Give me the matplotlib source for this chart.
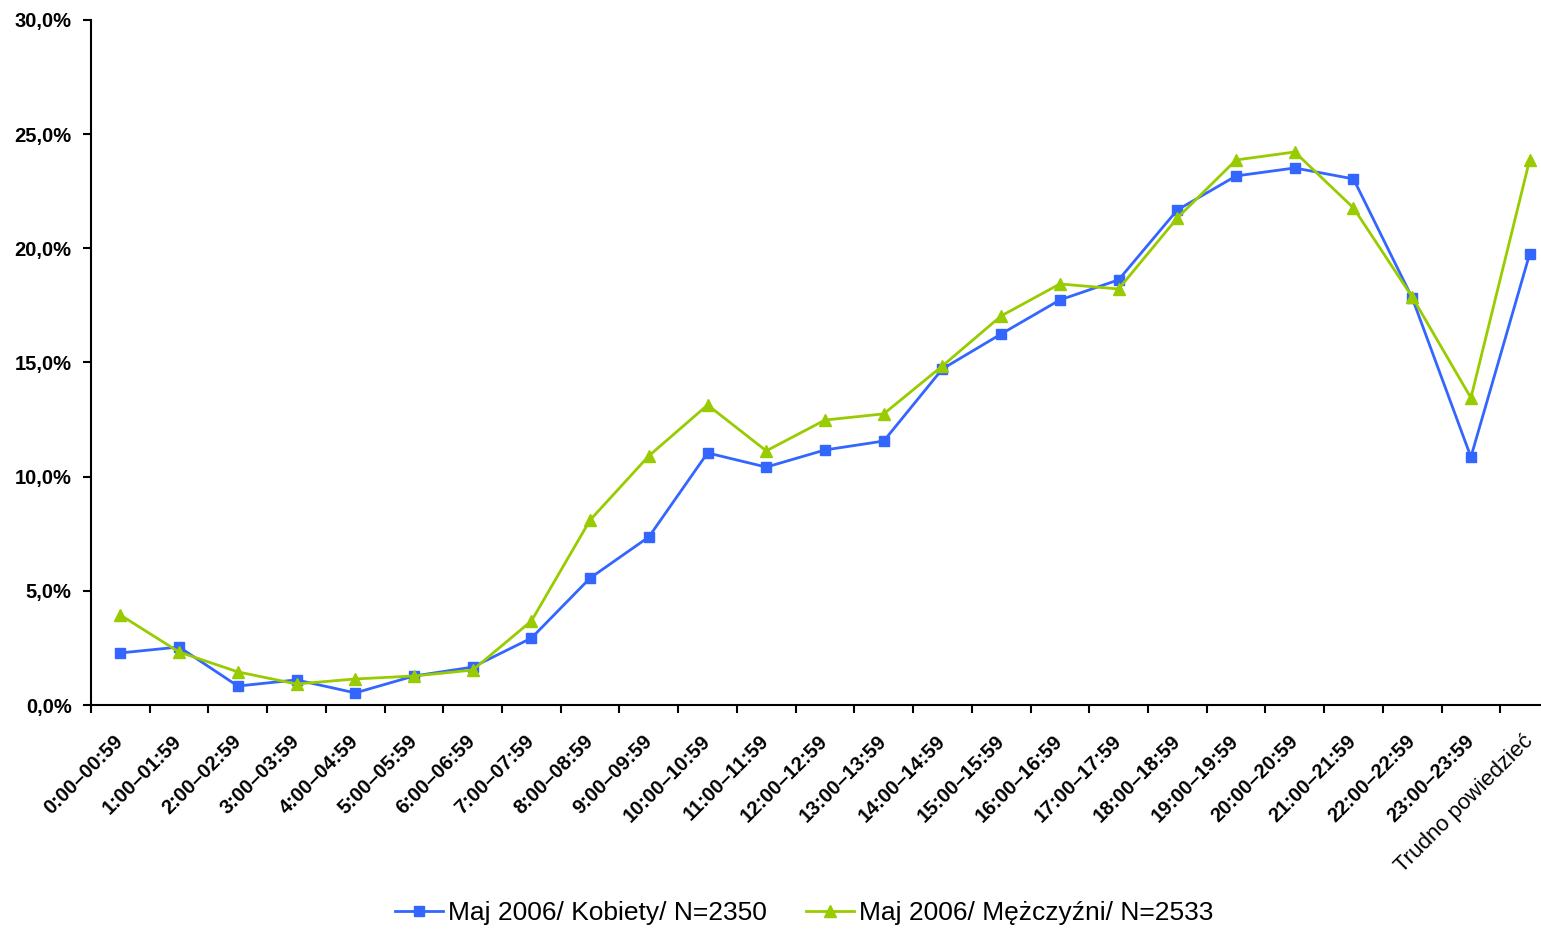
import numpy as np
import matplotlib.pyplot as plt
from matplotlib.ticker import FuncFormatter

plt.rcParams['font.family'] = ['Liberation Sans', 'DejaVu Sans']

kategorie = ["0:00–00:59", "1:00–01:59", "2:00–02:59", "3:00–03:59", "4:00–04:59",
             "5:00–05:59", "6:00–06:59", "7:00–07:59", "8:00–08:59", "9:00–09:59",
             "10:00–10:59", "11:00–11:59", "12:00–12:59", "13:00–13:59", "14:00–14:59",
             "15:00–15:59", "16:00–16:59", "17:00–17:59", "18:00–18:59", "19:00–19:59",
             "20:00–20:59", "21:00–21:59", "22:00–22:59", "23:00–23:59", "Trudno powiedzieć"]

kobiety = [2.28, 2.54, 0.83, 1.10, 0.53, 1.27, 1.66, 2.93, 5.56, 7.36,
           11.04, 10.42, 11.17, 11.56, 14.72, 16.25, 17.74, 18.62, 21.68, 23.17,
           23.52, 23.04, 17.83, 10.86, 19.75]

mezczyzni = [3.94, 2.32, 1.45, 0.92, 1.14, 1.27, 1.53, 3.68, 8.10, 10.91,
             13.14, 11.13, 12.48, 12.75, 14.85, 17.04, 18.44, 18.22, 21.33, 23.87,
             24.22, 21.77, 17.87, 13.45, 23.87]

etykiety = ["Maj 2006/ Kobiety/ N=2350", "Maj 2006/ Mężczyźni/ N=2533"]

fig = plt.figure(figsize=(15.41, 9.30), dpi=100)
ax = fig.add_axes([91 / 1541, 1 - 705 / 930, (1559 - 91) / 1541, (705 - 20) / 930])

x = np.arange(len(kategorie))
ax.plot(x, kobiety, color='#3366FF', marker='s', markersize=7, linewidth=2,
        label=etykiety[0], clip_on=False)
ax.plot(x, mezczyzni, color='#99CC00', marker='^', markersize=8, linewidth=2,
        label=etykiety[1], clip_on=False)

ax.set_xlim(-0.5, len(kategorie) - 0.5)
ax.set_ylim(0, 30)
ax.set_yticks(np.arange(0, 31, 5))
ax.yaxis.set_major_formatter(FuncFormatter(lambda v, p: f"{v:.1f}%".replace('.', ',')))

ax.set_xticks(x)
ax.set_xticklabels(kategorie, rotation=45, ha='right', va='center',
                   rotation_mode='anchor', fontweight='bold', fontsize=14.5)
# ostatnia etykieta nie jest pogrubiona
ostatnia = ax.get_xticklabels()[-1]
ostatnia.set_fontweight('normal')
ostatnia.set_fontsize(16)
ax.set_xticks(np.arange(-0.5, len(kategorie)), minor=True)
ax.tick_params(axis='x', which='major', length=0, pad=24)
ax.tick_params(axis='x', which='minor', length=6, width=1.5, direction='out')
ax.tick_params(axis='y', length=6, width=1.5, labelsize=14.5, pad=8)
for t in ax.get_yticklabels():
    t.set_fontweight('bold')

for s in ['top', 'right']:
    ax.spines[s].set_visible(False)
for s in ['left', 'bottom']:
    ax.spines[s].set_linewidth(1.5)

fig.legend(loc='center', bbox_to_anchor=(0.522, 1 - 913 / 930), ncol=2, frameon=False,
           fontsize=19, handlelength=1.8, columnspacing=1.5, handletextpad=0.2)

fig.savefig('out.png', dpi=100)
